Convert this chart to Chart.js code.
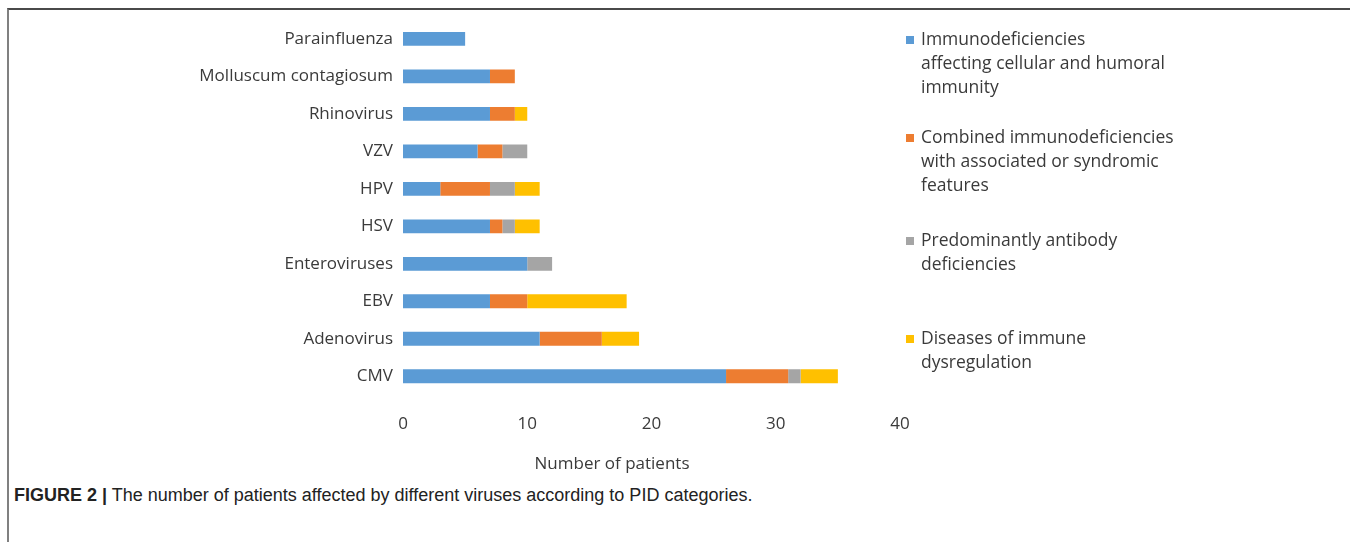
<!DOCTYPE html>
<html>
<head>
<meta charset="utf-8">
<script src="https://cdn.jsdelivr.net/npm/chart.js@4.4.1/dist/chart.umd.min.js"></script>
<style>
    html, body { margin: 0; padding: 0; background: #fff; }
    #page { position: relative; width: 1355px; height: 542px; overflow: hidden; }
    #frame { position: absolute; left: 7px; top: 8px; right: 5px; bottom: -5px;
        border-top: 2px solid #4a4a4a; border-left: 2px solid #808080; }
    #chartBox { position: absolute; left: 0; top: 0; width: 1355px; height: 480px; }
    #caption { position: absolute; left: 14px; top: 485px; font-family: 'Liberation Sans', Arial, sans-serif;
        font-size: 18px; color: #222; white-space: nowrap; }
    #caption b { font-weight: bold; }
</style>
</head>
<body>
<div id="page">
    <div id="frame"></div>
    <div id="chartBox"><canvas id="virusChart"></canvas></div>
    <div id="caption"><b>FIGURE 2 |</b> The number of patients affected by different viruses according to PID categories.</div>
</div>
<script>
// Data (top to bottom)
const viruses = ['Parainfluenza', 'Molluscum contagiosum', 'Rhinovirus', 'VZV', 'HPV', 'HSV',
    'Enteroviruses', 'EBV', 'Adenovirus', 'CMV'];
const cellularHumoral = [5, 7, 7, 6, 3, 7, 10, 7, 11, 26];
const combinedSyndromic = [0, 2, 2, 2, 4, 1, 0, 3, 5, 5];
const antibodyDeficiencies = [0, 0, 0, 2, 2, 1, 2, 0, 0, 1];
const immuneDysregulation = [0, 0, 1, 0, 2, 2, 0, 8, 3, 3];
const seriesNames = [
    ['Immunodeficiencies', 'affecting cellular and humoral', 'immunity'],
    ['Combined immunodeficiencies', 'with associated or syndromic', 'features'],
    ['Predominantly antibody', 'deficiencies'],
    ['Diseases of immune', 'dysregulation']
];
const xTicks = [0, 10, 20, 30, 40];
const xTitle = 'Number of patients';

const colors = ['#5b9bd5', '#ed7d31', '#a5a5a5', '#ffc000'];
const labelFont = "'Open Sans', sans-serif";
const textColor = '#3a3a3a';

// Legend on the right (Excel-style wrapped text) plus the x axis title,
// which sits left of centre in the original
const legendTops = [40, 138, 241, 339];
const sideLegend = {
    id: 'sideLegend',
    afterDraw(chart) {
        const c = chart.ctx;
        c.save();
        c.font = '17.5px ' + labelFont;
        c.textBaseline = 'middle';
        chart.data.datasets.forEach((ds, i) => {
            const y0 = legendTops[i];
            c.fillStyle = ds.backgroundColor;
            c.fillRect(906, y0 - 4, 8, 8);
            c.fillStyle = textColor;
            seriesNames[i].forEach((line, j) => {
                c.fillText(line, 921, y0 + j * 24);
            });
        });
        c.font = '17px ' + labelFont;
        c.textAlign = 'center';
        c.fillText(xTitle, 612, 464);
        c.restore();
    }
};

const datasets = [cellularHumoral, combinedSyndromic, antibodyDeficiencies, immuneDysregulation]
    .map((vals, i) => ({
        label: seriesNames[i].join(' '),
        data: vals,
        backgroundColor: colors[i],
        borderWidth: 0,
        barPercentage: 0.37,
        categoryPercentage: 1.0
    }));

new Chart(document.getElementById('virusChart'), {
    type: 'bar',
    data: { labels: viruses, datasets: datasets },
    plugins: [sideLegend],
    options: {
        indexAxis: 'y',
        responsive: true,
        maintainAspectRatio: false,
        animation: false,
        layout: { padding: { top: 14, right: 455, left: 0, bottom: 4 } },
        plugins: {
            legend: { display: false },
            tooltip: { enabled: false }
        },
        scales: {
            y: {
                stacked: true,
                grid: { display: false, drawTicks: false },
                border: { display: false },
                ticks: { color: textColor, padding: 10, font: { family: labelFont, size: 17 } },
                afterFit: (s) => { s.width = 403; }
            },
            x: {
                stacked: true,
                min: 0,
                max: 40,
                afterBuildTicks: (s) => { s.ticks = xTicks.map(v => ({ value: v })); },
                grid: { display: false, drawTicks: false },
                border: { display: false },
                ticks: { color: textColor, padding: 19, font: { family: labelFont, size: 17 } },
                afterFit: (s) => { s.height = 81; }
            }
        }
    }
});
</script>
</body>
</html>
